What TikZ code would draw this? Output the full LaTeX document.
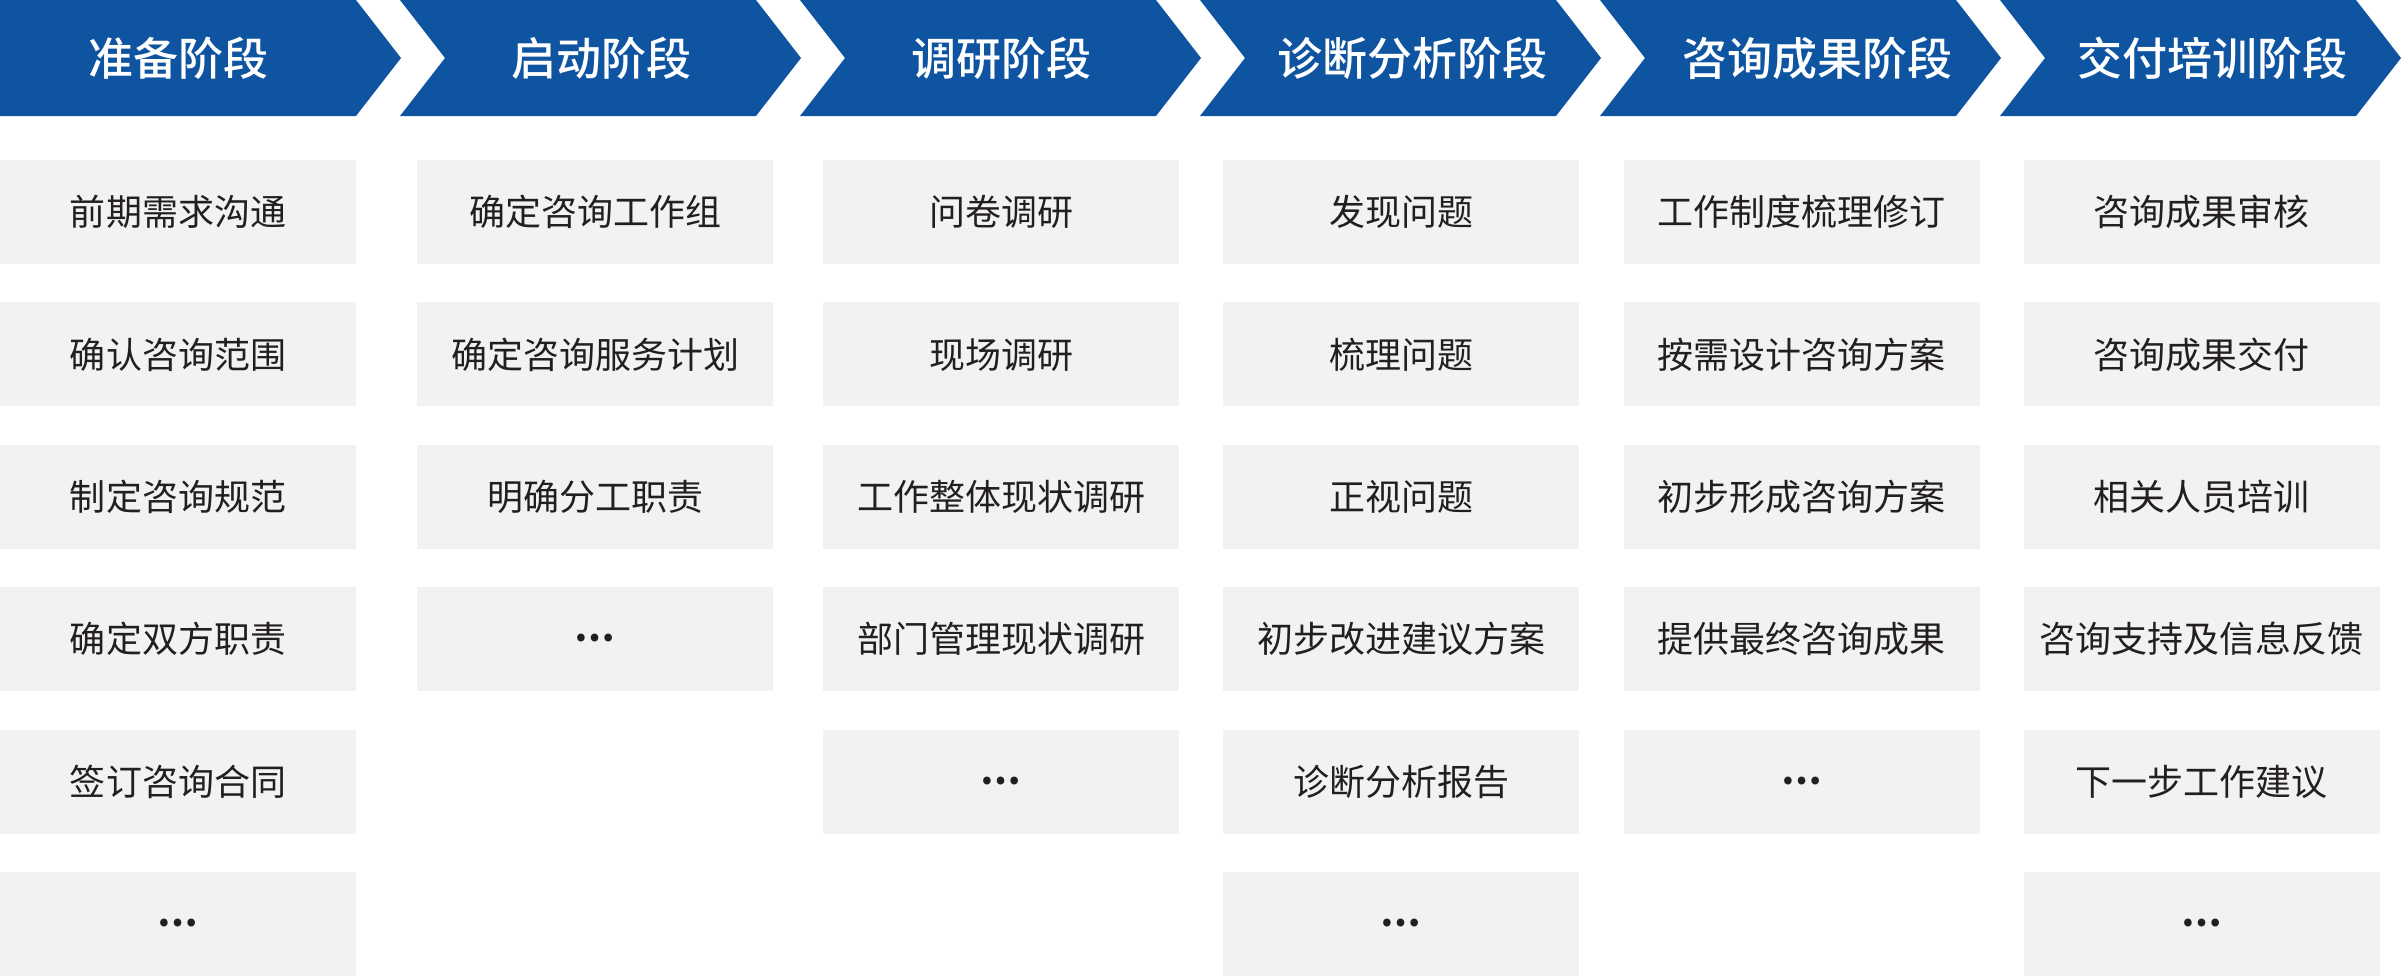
\documentclass[tikz,border=0pt]{standalone}
\usepackage{fontspec}
\setmainfont{Noto Sans CJK SC}
\newfontfamily\hdfont{Noto Sans CJK SC Medium}
\definecolor{bannerblue}{RGB}{14,84,160}
\definecolor{boxgray}{RGB}{242,242,242}
\definecolor{txtdark}{RGB}{35,31,32}
\tikzset{
  chev/.style={fill=bannerblue, draw=none},
  headtxt/.style={text=white, font=\fontsize{45bp}{54bp}\hdfont, inner sep=0pt, text height=39.6bp, text depth=5.4bp},
  itembox/.style={fill=boxgray, draw=none, minimum width=356bp, minimum height=104bp, inner sep=0pt,
    text=txtdark, font=\fontsize{36bp}{43bp}\selectfont, text height=31.7bp, text depth=4.3bp}
}
\newcommand{\dotsmark}{\raisebox{11bp}{\bfseries …}}
\begin{document}
\begin{tikzpicture}[x=1bp,y=-1bp]
\useasboundingbox (0,0) rectangle (2402,976);
% chevrons
\fill[chev] (0,0) -- (356,0) -- (401,58) -- (356,116) -- (0,116) -- cycle;
\foreach \k in {1,...,5}{
  \fill[chev] ({400*\k},0) -- ({400*\k+356},0) -- ({400*\k+401},58) -- ({400*\k+356},116) -- ({400*\k},116) -- ({400*\k+45},58) -- cycle;
}
% header texts
\node[headtxt] (h1) at (178,58) {准备阶段};
\node[headtxt] (h2) at (601,58) {启动阶段};
\node[headtxt] (h3) at (1001,58) {调研阶段};
\node[headtxt] (h4) at (1412,58) {诊断分析阶段};
\node[headtxt] (h5) at (1817,58) {咨询成果阶段};
\node[headtxt] (h6) at (2212,58) {交付培训阶段};
% column 1
\foreach \t [count=\i] in {前期需求沟通,确认咨询范围,制定咨询规范,确定双方职责,签订咨询合同,\dotsmark}{
  \node[itembox] (a\i) at (178,{212+142.4*(\i-1)}) {\t};
}
% column 2
\foreach \t [count=\i] in {确定咨询工作组,确定咨询服务计划,明确分工职责,\dotsmark}{
  \node[itembox] (b\i) at (595,{212+142.4*(\i-1)}) {\t};
}
% column 3
\foreach \t [count=\i] in {问卷调研,现场调研,工作整体现状调研,部门管理现状调研,\dotsmark}{
  \node[itembox] (c\i) at (1001,{212+142.4*(\i-1)}) {\t};
}
% column 4
\foreach \t [count=\i] in {发现问题,梳理问题,正视问题,初步改进建议方案,诊断分析报告,\dotsmark}{
  \node[itembox] (d\i) at (1401,{212+142.4*(\i-1)}) {\t};
}
% column 5
\foreach \t [count=\i] in {工作制度梳理修订,按需设计咨询方案,初步形成咨询方案,提供最终咨询成果,\dotsmark}{
  \node[itembox] (e\i) at (1801.5,{212+142.4*(\i-1)}) {\t};
}
% column 6
\foreach \t [count=\i] in {咨询成果审核,咨询成果交付,相关人员培训,咨询支持及信息反馈,下一步工作建议,\dotsmark}{
  \node[itembox] (f\i) at (2201.5,{212+142.4*(\i-1)}) {\t};
}
\end{tikzpicture}
\end{document}
